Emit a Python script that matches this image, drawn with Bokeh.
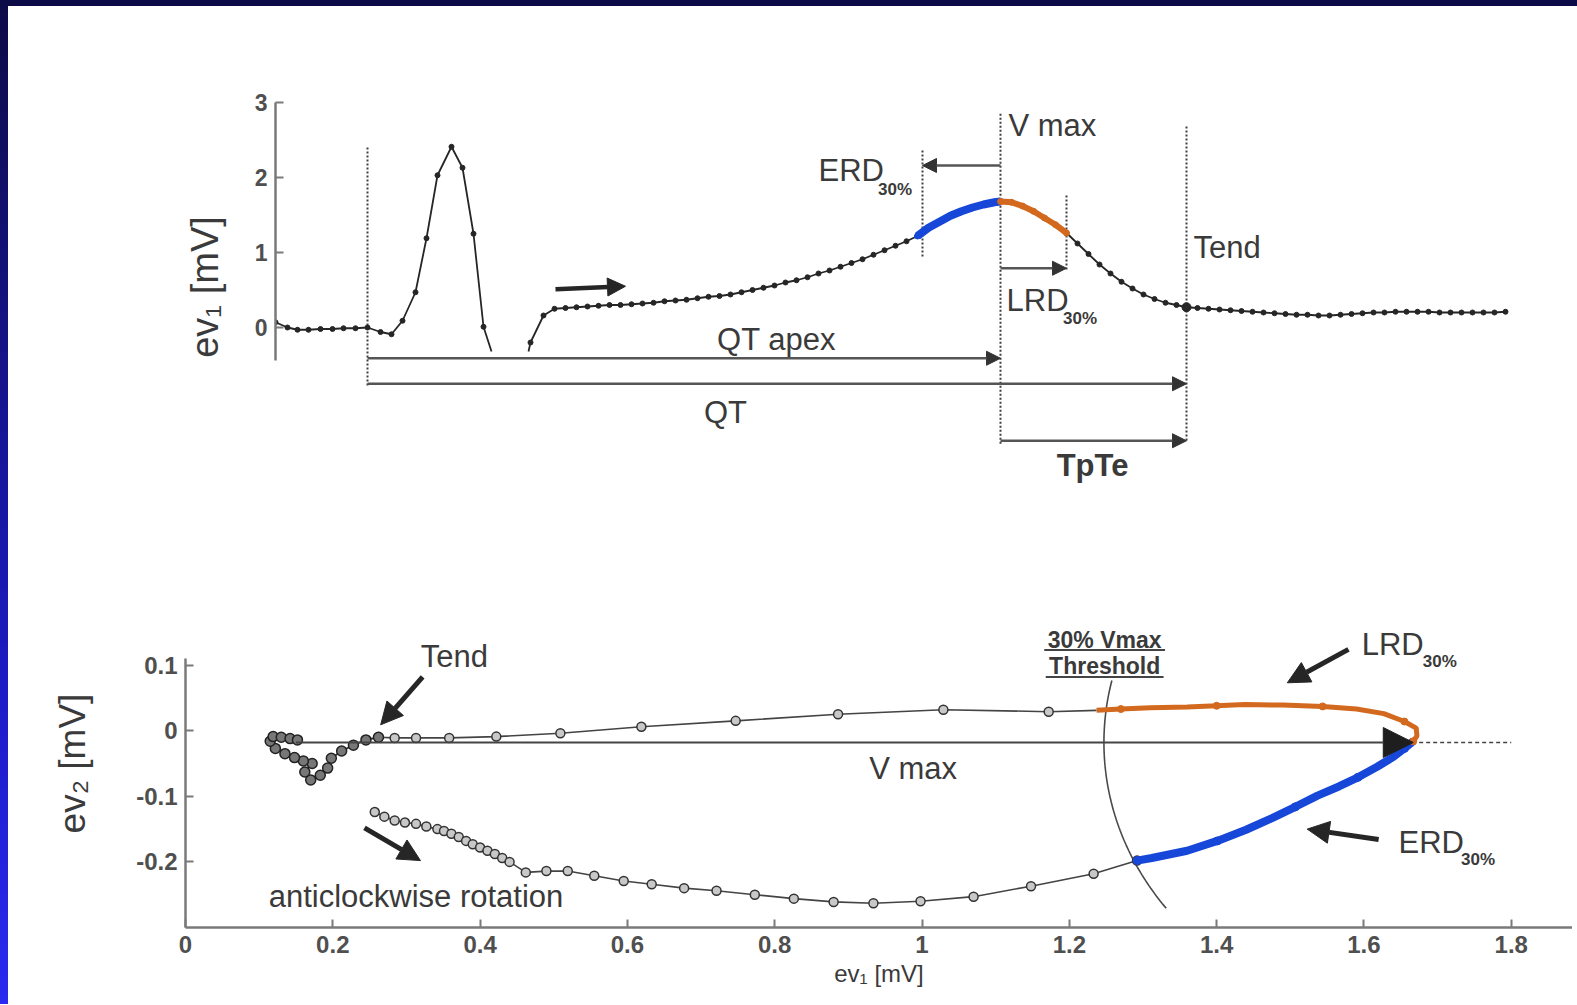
import numpy as np
from bokeh.plotting import figure
from bokeh.layouts import column, row
from bokeh.models import (Range1d, FixedTicker, Label, Arrow, NormalHead,
                          CustomJSTickFormatter, Div)
from bokeh.embed import file_html
from bokeh.resources import INLINE

FONT = "Liberation Sans"
TXT = "#3a3a3a"
AXC = "#7a7a7a"
BLUE = "#1747d8"
ORANGE = "#d2691e"
DARK = "#262626"

# ---------------- top panel data: ev1 vs time (ms) ----------------
QRS_T = [0, 4.8, 8.8, 13.2, 18.0, 22.8, 27.2, 32.0, 36.8, 42.0, 46.4, 50.8, 56.0,
         60.4, 64.8, 70.4, 74.8, 79.2, 83.2, 86.4]
QRS_V = [0.07, 0.0, -0.03, -0.03, -0.02, -0.02, -0.01, -0.01, 0.0, -0.06, -0.09, 0.09,
         0.47, 1.19, 2.03, 2.41, 2.13, 1.25, 0.01, -0.32]

ST_T = [101.2, 102.0, 107.2, 111.6, 116.0, 120.4, 124.8, 129.2, 133.6, 138.0, 142.4,
        146.8, 151.2, 155.6, 160.0, 164.4, 168.8, 173.2, 177.6, 182.0, 186.4, 190.8,
        195.2, 199.6, 204.0, 208.4, 212.8, 217.2, 221.6, 226.0, 230.4, 234.8, 239.2,
        243.6, 248.0, 252.4, 256.8]
ST_V = [-0.32, -0.20, 0.16, 0.25, 0.26, 0.27, 0.28, 0.29, 0.30, 0.30, 0.31, 0.32, 0.33,
        0.35, 0.36, 0.37, 0.39, 0.41, 0.42, 0.44, 0.47, 0.50, 0.53, 0.56, 0.60, 0.63,
        0.67, 0.72, 0.76, 0.81, 0.86, 0.91, 0.97, 1.03, 1.09, 1.15, 1.22]

ERDSEG_T = [256.8, 261.2, 265.6, 270.0, 274.4, 278.8, 283.2, 287.6, 290.0]
ERDSEG_V = [1.22, 1.33, 1.41, 1.49, 1.55, 1.60, 1.64, 1.67, 1.68]

LRDSEG_T = [290.0, 294.4, 298.8, 303.2, 307.6, 312.0, 316.4]
LRDSEG_V = [1.68, 1.67, 1.62, 1.55, 1.46, 1.37, 1.26]

TAIL_T = [316.4, 320.8, 325.2, 329.6, 334.0, 338.4, 342.8, 347.2, 351.6, 356.0, 360.4,
          364.4, 368.8, 373.2, 377.6, 382.0, 386.4, 390.8, 395.2, 399.6, 404.0, 408.4,
          412.8, 417.2, 421.6, 426.0, 430.4, 434.8, 439.2, 443.6, 448.0, 452.4, 456.8,
          461.2, 465.6, 470.0, 474.4, 478.8, 483.2, 487.6, 492.0]
TAIL_V = [1.26, 1.12, 0.98, 0.84, 0.72, 0.61, 0.52, 0.44, 0.38, 0.33, 0.30, 0.27, 0.26,
          0.25, 0.24, 0.23, 0.22, 0.21, 0.20, 0.19, 0.18, 0.17, 0.17, 0.16, 0.16, 0.17,
          0.18, 0.19, 0.20, 0.20, 0.21, 0.21, 0.21, 0.21, 0.20, 0.20, 0.20, 0.20, 0.20,
          0.20, 0.21]

# event times (ms)
QRS_ON = 36.8
ERD_ON = 258.8
VMAX_T = 290.0
LRD_ON = 316.4
TEND_T = 364.4
TEND_V = 0.27

TOP_YTICKS = [0, 1, 2, 3]

# ---------------- bottom panel data: ev2 vs ev1 loop (mV) ----------------
LOW_X = [0.257, 0.270, 0.284, 0.298, 0.313, 0.327, 0.342, 0.351, 0.361, 0.371, 0.381,
         0.390, 0.400, 0.410, 0.420, 0.430, 0.440, 0.462, 0.490, 0.519, 0.555, 0.595,
         0.633, 0.677, 0.721, 0.773, 0.826, 0.880, 0.934, 0.998, 1.070, 1.148, 1.233,
         1.292]
LOW_Y = [-0.124, -0.131, -0.137, -0.140, -0.142, -0.146, -0.150, -0.153, -0.157, -0.162,
         -0.168, -0.173, -0.178, -0.183, -0.188, -0.194, -0.200, -0.216, -0.214, -0.214,
         -0.221, -0.229, -0.234, -0.240, -0.244, -0.250, -0.256, -0.261, -0.263, -0.260,
         -0.253, -0.237, -0.218, -0.198]

ERD_X = [1.292, 1.312, 1.360, 1.401, 1.440, 1.476, 1.507, 1.537, 1.566, 1.592, 1.618,
         1.640, 1.655, 1.667]
ERD_Y = [-0.198, -0.194, -0.183, -0.168, -0.151, -0.133, -0.116, -0.099, -0.085, -0.071,
         -0.055, -0.040, -0.027, -0.016]

LRD_X = [1.667, 1.672, 1.671, 1.655, 1.627, 1.590, 1.544, 1.490, 1.438, 1.400, 1.360,
         1.310, 1.270, 1.237]
LRD_Y = [-0.016, -0.008, 0.004, 0.014, 0.026, 0.033, 0.037, 0.039, 0.040, 0.038, 0.036,
         0.035, 0.033, 0.031]

UP_X = [1.237, 1.172, 1.029, 0.886, 0.747, 0.619, 0.509, 0.422, 0.358, 0.313, 0.284,
        0.262]
UP_Y = [0.031, 0.029, 0.032, 0.025, 0.015, 0.006, -0.004, -0.009, -0.011, -0.011,
        -0.011, -0.010]

BLOB_X = [0.262, 0.245, 0.228, 0.212, 0.198, 0.193, 0.183, 0.170, 0.162, 0.172, 0.160,
          0.148, 0.135, 0.122, 0.115, 0.119, 0.130, 0.142, 0.152]
BLOB_Y = [-0.010, -0.014, -0.022, -0.031, -0.042, -0.057, -0.068, -0.075, -0.063,
          -0.050, -0.046, -0.041, -0.035, -0.027, -0.016, -0.009, -0.010, -0.012, -0.014]

VMAX_X0, VMAX_X1, VMAX_Y = 0.150, 1.667, -0.018
THRESH_R = 0.42

BOT_XTICKS = [0, 0.2, 0.4, 0.6, 0.8, 1.0, 1.2, 1.4, 1.6, 1.8]
BOT_YTICKS = [-0.2, -0.1, 0, 0.1]

ANN = 31      # annotation font size
SUB = 17      # subscript font size


def lab(p, x, y, text, size, align="left", bold=False, color=TXT):
    p.add_layout(Label(x=x, y=y, text=text, text_font=FONT, text_font_size=f"{size}px",
                       text_color=color, text_align=align, text_baseline="middle",
                       text_font_style="bold" if bold else "normal"))


def arrow(p, x0, y0, x1, y1, width, head, color=DARK, lcolor=None):
    p.add_layout(Arrow(end=NormalHead(size=head, fill_color=color, line_color=color),
                       x_start=x0, y_start=y0, x_end=x1, y_end=y1,
                       line_width=width, line_color=lcolor or color))


def style_axis(ax, size):
    ax.axis_line_color = AXC
    ax.axis_line_width = 2.5
    ax.major_tick_line_color = AXC
    ax.major_tick_line_width = 2
    ax.major_tick_in = 8
    ax.major_tick_out = 0
    ax.minor_tick_in = 0
    ax.minor_tick_out = 0
    ax.major_label_text_font = FONT
    ax.major_label_text_font_size = f"{size}px"
    ax.major_label_text_color = "#4f4f4f"
    ax.major_label_text_font_style = "bold"
    ax.axis_label_text_font = FONT
    ax.axis_label_text_font_style = "normal"
    ax.axis_label_text_color = TXT


# ======================= TOP FIGURE =======================
p1 = figure(width=1564, height=532, x_range=Range1d(0, 518.8), y_range=Range1d(-2.12, 3.2),
            output_backend="svg", toolbar_location=None, x_axis_location=None,
            min_border_left=267, min_border_right=0, min_border_top=81, min_border_bottom=52)
p1.frame_align = False
p1.grid.grid_line_color = None
p1.outline_line_color = None
p1.yaxis.ticker = FixedTicker(ticks=TOP_YTICKS)
p1.yaxis.bounds = (-0.44, 3.0)
p1.yaxis.major_label_standoff = 8
style_axis(p1.yaxis[0], 23)
p1.yaxis.axis_label = "ev\u2081 [mV]"
p1.yaxis.axis_label_text_font_size = "38px"
p1.yaxis.axis_label_standoff = 26

# dotted markers of events
p1.segment(x0=[QRS_ON, VMAX_T, TEND_T, ERD_ON, LRD_ON],
           y0=[2.40, 2.85, 2.68, 2.36, 1.76],
           x1=[QRS_ON, VMAX_T, TEND_T, ERD_ON, LRD_ON],
           y1=[-0.80, -1.57, -1.52, 0.92, 0.76],
           line_color="#404040", line_width=2, line_dash="2 2")

# ECG trace
p1.line(QRS_T, QRS_V, color=DARK, line_width=1.8)
p1.scatter(QRS_T[:-1], QRS_V[:-1], size=5, color=DARK)
p1.line(ST_T, ST_V, color=DARK, line_width=1.8)
p1.scatter(ST_T[1:], ST_V[1:], size=5, color=DARK)
p1.line(TAIL_T, TAIL_V, color=DARK, line_width=1.8)
p1.scatter(TAIL_T, TAIL_V, size=5, color=DARK)
p1.line(ERDSEG_T, ERDSEG_V, color=BLUE, line_width=8)
p1.scatter(ERDSEG_T, ERDSEG_V, size=6, color=BLUE)
p1.line(LRDSEG_T, LRDSEG_V, color=ORANGE, line_width=6)
p1.scatter(LRDSEG_T, LRDSEG_V, size=6, color=ORANGE)
p1.scatter([TEND_T], [TEND_V], size=9, color=DARK)

# measurement arrows
arrow(p1, VMAX_T, 2.16, ERD_ON, 2.16, 2.5, 14, color="#333", lcolor="#555")
arrow(p1, VMAX_T, 0.79, LRD_ON, 0.79, 2.5, 14, color="#333", lcolor="#555")
arrow(p1, QRS_ON, -0.41, VMAX_T, -0.41, 2.5, 14, color="#333", lcolor="#555")
arrow(p1, QRS_ON, -0.75, TEND_T, -0.75, 2.5, 14, color="#333", lcolor="#555")
arrow(p1, VMAX_T, -1.51, TEND_T, -1.51, 2.5, 14, color="#333", lcolor="#555")
arrow(p1, 112, 0.51, 140, 0.55, 4.5, 18)

lab(p1, 293.2, 2.69, "V max", ANN)
lab(p1, 217.2, 2.09, "ERD", ANN)
lab(p1, 241.0, 1.84, "30%", SUB, bold=True)
lab(p1, 292.4, 0.36, "LRD", ANN)
lab(p1, 315.0, 0.12, "30%", SUB, bold=True)
lab(p1, 367.2, 1.07, "Tend", ANN)
lab(p1, 200.4, -0.16, "QT apex", ANN, align="center")
lab(p1, 180.0, -1.13, "QT", ANN, align="center")
lab(p1, 326.8, -1.84, "TpTe", ANN, align="center", bold=True)

# ======================= BOTTOM FIGURE =======================
p2 = figure(width=1564, height=466, x_range=Range1d(0, 1.8832), y_range=Range1d(-0.3, 0.2),
            output_backend="svg", toolbar_location=None,
            min_border_left=177, min_border_right=0, min_border_top=61, min_border_bottom=77)
p2.frame_align = False
p2.grid.grid_line_color = None
p2.outline_line_color = None
fmt = CustomJSTickFormatter(code="return (Math.round(tick * 10) / 10).toString();")
p2.xaxis.ticker = FixedTicker(ticks=BOT_XTICKS)
p2.yaxis.ticker = FixedTicker(ticks=BOT_YTICKS)
p2.xaxis.formatter = fmt
p2.yaxis.formatter = fmt
p2.yaxis.bounds = (-0.3, 0.11)
p2.xaxis.bounds = (0, 1.92)
p2.xaxis.major_label_standoff = 8
p2.yaxis.major_label_standoff = 8
style_axis(p2.xaxis[0], 24)
style_axis(p2.yaxis[0], 24)
p2.yaxis.axis_label = "ev\u2082 [mV]"
p2.yaxis.axis_label_text_font_size = "37px"
p2.yaxis.axis_label_standoff = 40
p2.xaxis.axis_label = "ev\u2081 [mV]"
p2.xaxis.axis_label_text_font_size = "24px"
p2.xaxis.axis_label_standoff = 4

# threshold arc centred on the Vmax tip
ang = np.linspace(np.radians(167), np.radians(217), 80)
p2.line(VMAX_X1 + THRESH_R * np.cos(ang), VMAX_Y + THRESH_R * np.sin(ang),
        color="#4a4a4a", line_width=1.6)

# loop
circ = dict(marker="circle", size=9, fill_color="#c8c8c8", line_color="#333",
            line_width=1.5)
p2.line(LOW_X, LOW_Y, color="#444", line_width=1.6)
p2.scatter(LOW_X, LOW_Y, **circ)
p2.line(UP_X, UP_Y, color="#444", line_width=1.6)
p2.scatter(UP_X[1:], UP_Y[1:], **circ)
p2.line(BLOB_X, BLOB_Y, color="#333", line_width=2)
p2.scatter(BLOB_X, BLOB_Y, marker="circle", size=10, fill_color="#777", line_color="#222",
           line_width=1.5)
p2.line(ERD_X, ERD_Y, color=BLUE, line_width=8)
p2.scatter(ERD_X[::3], ERD_Y[::3], size=8, color=BLUE)
p2.line(LRD_X, LRD_Y, color=ORANGE, line_width=5)
p2.scatter(LRD_X[::3], LRD_Y[::3], size=7, color=ORANGE)

# Vmax vector
p2.segment(x0=[VMAX_X1 + 0.008], y0=[VMAX_Y], x1=[1.80], y1=[VMAX_Y],
           line_color="#444", line_width=1.5, line_dash="4 3")
arrow(p2, VMAX_X0, VMAX_Y, VMAX_X1, VMAX_Y, 2, 30, color="#1e1e1e", lcolor="#444")

# annotation arrows
arrow(p2, 0.322, 0.082, 0.265, 0.009, 5, 22)
arrow(p2, 0.243, -0.148, 0.319, -0.198, 5, 22)
arrow(p2, 1.579, 0.124, 1.496, 0.073, 5, 22)
arrow(p2, 1.620, -0.166, 1.523, -0.150, 5, 22)

lab(p2, 0.365, 0.113, "Tend", ANN, align="center")
lab(p2, 0.313, -0.253, "anticlockwise rotation", ANN, align="center")
lab(p2, 0.988, -0.057, "V max", ANN, align="center")
lab(p2, 1.248, 0.139, "30% Vmax", 23, align="center", bold=True)
lab(p2, 1.248, 0.098, "Threshold", 23, align="center", bold=True)
p2.segment(x0=[1.166, 1.168], y0=[0.123, 0.082], x1=[1.330, 1.328], y1=[0.123, 0.082],
           line_color="#444", line_width=2)
lab(p2, 1.597, 0.131, "LRD", ANN)
lab(p2, 1.703, 0.105, "30%", SUB, align="center", bold=True)
lab(p2, 1.647, -0.171, "ERD", ANN)
lab(p2, 1.755, -0.197, "30%", SUB, align="center", bold=True)

# slide border
top_band = Div(width=1577, height=6, margin=(0, 0, 0, 0),
               styles={"background": "#0d0b47"})
left_band = Div(width=8, height=998, margin=(0, 0, 0, 0),
                styles={"background": "linear-gradient(#0d0b47, #1c1cc8 70%, #2a2af0)"})

p = column(top_band, row(left_band, column(p1, p2, spacing=0), spacing=0), spacing=0)
open("out.html", "w").write(file_html(p, INLINE))
